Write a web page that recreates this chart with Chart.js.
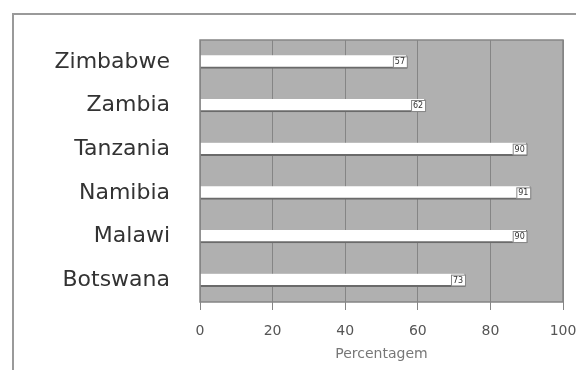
<!DOCTYPE html>
<html lang="pt">
<head>
    <meta charset="UTF-8" />
    <title>Percentagem por país</title>
    <script src="https://cdn.jsdelivr.net/npm/chart.js"></script>
    <style>
        html, body { margin: 0; padding: 0; background: #fff; }
        #wrap { width: 576px; height: 370px; }
    </style>
</head>
<body>
    <div id="wrap"><canvas id="barChart" width="576" height="370"></canvas></div>

    <script>
        const countries = ['Zimbabwe', 'Zambia', 'Tanzania', 'Namibia', 'Malawi', 'Botswana'];
        const percentages = [57, 62, 90, 91, 90, 73];
        const xTicks = [0, 20, 40, 60, 80, 100];

        // grey plot background, plot frame and the outer box of the figure
        const backdrop = {
            id: 'backdrop',
            beforeDraw: (chart) => {
                const ctx = chart.ctx;
                const a = chart.chartArea;
                ctx.save();
                ctx.strokeStyle = '#9a9a9a';
                ctx.lineWidth = 2;
                ctx.beginPath();
                ctx.moveTo(13, 370);
                ctx.lineTo(13, 14);
                ctx.lineTo(576, 14);
                ctx.stroke();
                ctx.fillStyle = '#b0b0b0';
                ctx.fillRect(a.left, a.top, a.right - a.left, a.bottom - a.top);
                ctx.restore();
            },
            afterDatasetsDraw: (chart) => {
                const ctx = chart.ctx;
                const a = chart.chartArea;
                ctx.save();
                ctx.strokeStyle = '#858585';
                ctx.lineWidth = 1.5;
                ctx.strokeRect(a.left, a.top, a.right - a.left, a.bottom - a.top);
                ctx.restore();
            }
        };

        // small boxed value at the end of each bar
        const valueTags = {
            id: 'valueTags',
            afterDatasetsDraw: (chart) => {
                const ctx = chart.ctx;
                const meta = chart.getDatasetMeta(0);
                ctx.save();
                ctx.font = '8px "DejaVu Sans"';
                ctx.textAlign = 'center';
                ctx.textBaseline = 'middle';
                meta.data.forEach((bar, i) => {
                    const w = 14, h = 11;
                    const x = bar.x - w;
                    const y = bar.y - h / 2;
                    ctx.fillStyle = '#fff';
                    ctx.fillRect(x, y, w, h);
                    ctx.strokeStyle = '#888';
                    ctx.lineWidth = 1;
                    ctx.strokeRect(x + 0.5, y + 0.5, w, h);
                    ctx.fillStyle = '#333';
                    ctx.fillText(percentages[i], x + w / 2, bar.y + 0.5);
                });
                ctx.restore();
            }
        };

        new Chart(document.getElementById('barChart').getContext('2d'), {
            type: 'bar',
            data: {
                labels: countries,
                datasets: [{
                    data: percentages,
                    backgroundColor: '#ffffff',
                    borderColor: '#6a6a6a',
                    borderWidth: { top: 0, left: 0, right: 1, bottom: 2 },
                    borderSkipped: false,
                    barThickness: 13
                }]
            },
            options: {
                indexAxis: 'y',
                responsive: false,
                animation: false,
                layout: { padding: { top: 40, right: 0, bottom: 7, left: 0 } },
                plugins: {
                    legend: { display: false },
                    tooltip: { enabled: false }
                },
                scales: {
                    y: {
                        grid: { display: false },
                        border: { display: false },
                        afterFit: (scale) => { scale.width = 200; },
                        ticks: {
                            padding: 22,
                            color: '#333',
                            font: { family: 'DejaVu Sans', size: 22 }
                        }
                    },
                    x: {
                        min: 0,
                        max: 100,
                        afterBuildTicks: (scale) => { scale.ticks = xTicks.map(v => ({ value: v })); },
                        afterFit: (scale) => {
                            scale.height = 61;
                            scale.paddingRight = 13;
                        },
                        grid: { color: '#858585', lineWidth: 1, tickLength: 8 },
                        border: { display: false },
                        ticks: {
                            padding: 13,
                            color: '#555',
                            font: { family: 'DejaVu Sans', size: 14 }
                        },
                        title: {
                            display: true,
                            text: 'Percentagem',
                            color: '#777',
                            padding: 0,
                            font: { family: 'DejaVu Sans', size: 14 }
                        }
                    }
                }
            },
            plugins: [backdrop, valueTags]
        });
    </script>
</body>
</html>
